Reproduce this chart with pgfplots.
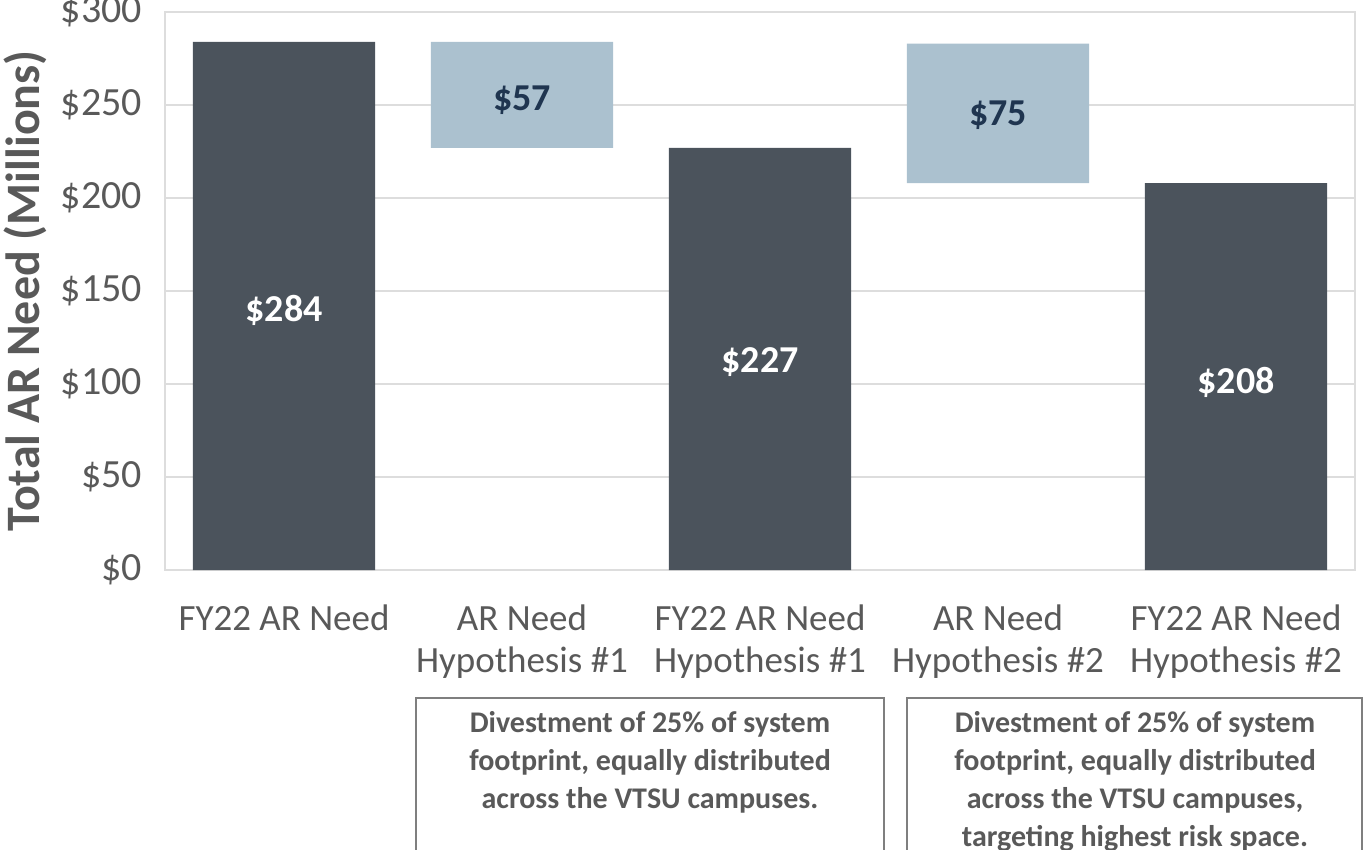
\documentclass[border=0pt]{standalone}
\usepackage{fontspec}
\setmainfont{Carlito}
\usepackage{pgfplots}
\pgfplotsset{compat=1.18}
\definecolor{darkbar}{HTML}{4B535C}
\definecolor{lightbar}{HTML}{ABC1CF}
\definecolor{navy}{HTML}{1F3550}
\definecolor{tickgray}{HTML}{595959}
\definecolor{gridgray}{HTML}{DDDDDD}
\definecolor{boxgray}{HTML}{7F7F7F}
\begin{document}
\begin{tikzpicture}
\useasboundingbox (-82.5bp,-140bp) rectangle (602.5bp,285bp);
\begin{axis}[
  at={(0,0)}, anchor=south west,
  scale only axis, width=595bp, height=279bp,
  xmin=-0.5, xmax=4.5, ymin=0, ymax=300,
  ybar stacked, bar width=0.765,
  xtick={0,1,2,3,4},
  xticklabels={FY22 AR Need, {AR Need\\Hypothesis \#1}, {FY22 AR Need\\Hypothesis \#1}, {AR Need\\Hypothesis \#2}, {FY22 AR Need\\Hypothesis \#2}},
  xticklabel style={align=center, font=\fontsize{18.5bp}{21bp}\selectfont, text=tickgray, yshift=-14bp},
  ytick={0,50,100,150,200,250,300},
  yticklabels={\$0,\$50,\$100,\$150,\$200,\$250,\$300},
  yticklabel style={font=\fontsize{20bp}{22bp}\selectfont, text=tickgray, xshift=-8bp},
  tick style={draw=none},
  ymajorgrids, grid style={gridgray, line width=0.8pt},
  axis line style={gridgray, line width=0.8pt},
  ylabel={Total AR Need (Millions)},
  every axis y label/.style={at={(axis description cs:-0.1176,0.5)}, rotate=90, anchor=center,
    font=\fontsize{24bp}{26bp}\selectfont\bfseries, text=tickgray},
  clip=false,
]
\addplot[fill=darkbar, draw=none] coordinates {(0,284) (1,0) (2,227) (3,0) (4,208)};
\addplot[fill=none, draw=none] coordinates {(0,0) (1,227) (2,0) (3,208) (4,0)};
\addplot[fill=lightbar, draw=none] coordinates {(0,0) (1,57) (2,0) (3,75) (4,0)};
\end{axis}
\begin{axis}[
  at={(0,0)}, anchor=south west,
  scale only axis, width=595bp, height=279bp,
  xmin=-0.5, xmax=4.5, ymin=0, ymax=300,
  hide axis, clip=false,
]
\addplot[draw=none, mark=none, nodes near coords, point meta=explicit symbolic,
  every node near coord/.style={anchor=center, text=white, font=\fontsize{19bp}{22bp}\selectfont\bfseries}]
  coordinates {(0,139.5) [\$284] (2,112) [\$227] (4,101) [\$208]};
\addplot[draw=none, mark=none, nodes near coords, point meta=explicit symbolic,
  every node near coord/.style={anchor=center, text=navy, font=\fontsize{19bp}{22bp}\selectfont\bfseries}]
  coordinates {(1,252.5) [\$57] (3,244.5) [\$75]};
\end{axis}
\draw[boxgray, line width=0.8pt] (125.5bp,-150bp) -- (125.5bp,-64bp) -- (359.5bp,-64bp) -- (359.5bp,-150bp);
\draw[boxgray, line width=0.8pt] (371bp,-150bp) -- (371bp,-64bp) -- (598.5bp,-64bp) -- (598.5bp,-150bp);
\node[anchor=north, align=center, text=tickgray, font=\fontsize{15bp}{19bp}\selectfont\bfseries] at (242.5bp,-67bp)
  {Divestment of 25\% of system\\footprint, equally distributed\\across the VTSU campuses.};
\node[anchor=north, align=center, text=tickgray, font=\fontsize{15bp}{19bp}\selectfont\bfseries] at (485bp,-67bp)
  {Divestment of 25\% of system\\footprint, equally distributed\\across the VTSU campuses,\\targeting highest risk space.};
\end{tikzpicture}
\end{document}
